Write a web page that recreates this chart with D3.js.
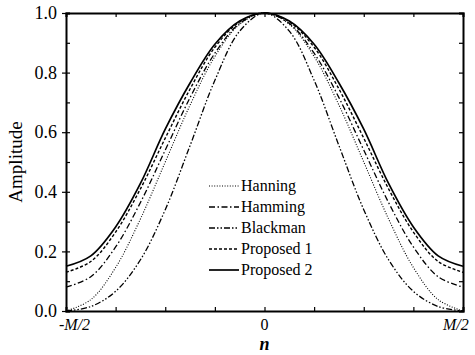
<!DOCTYPE html>
<html>
<head>
<meta charset="utf-8">
<script src="https://cdn.jsdelivr.net/npm/d3@7"></script>
<style>
  body { margin: 0; background: #fff; }
  text { font-family: "Liberation Serif", "Times New Roman", serif; fill: #000; }
</style>
</head>
<body>
<div id="chart"></div>
<script>
// window curves, n given as fraction of M/2
const nValues = [-1, -0.875, -0.75, -0.625, -0.5, -0.375, -0.25, -0.125, 0,
                 0.125, 0.25, 0.375, 0.5, 0.625, 0.75, 0.875, 1];
const hanning   = [0, 0.038, 0.146, 0.309, 0.5, 0.691, 0.854, 0.962, 1,
                   0.962, 0.854, 0.691, 0.5, 0.309, 0.146, 0.038, 0];
const hamming   = [0.08, 0.115, 0.215, 0.364, 0.54, 0.716, 0.865, 0.965, 1,
                   0.965, 0.865, 0.716, 0.54, 0.364, 0.215, 0.115, 0.08];
const blackman  = [0, 0.015, 0.066, 0.172, 0.34, 0.555, 0.774, 0.939, 1,
                   0.939, 0.774, 0.555, 0.34, 0.172, 0.066, 0.015, 0];
const proposed1 = [0.13, 0.166, 0.265, 0.41, 0.58, 0.745, 0.885, 0.97, 1,
                   0.97, 0.885, 0.745, 0.58, 0.41, 0.265, 0.166, 0.13];
const proposed2 = [0.15, 0.185, 0.282, 0.428, 0.61, 0.765, 0.895, 0.973, 1,
                   0.973, 0.895, 0.765, 0.61, 0.428, 0.282, 0.185, 0.15];
const seriesNames = ["Hanning", "Hamming", "Blackman", "Proposed 1", "Proposed 2"];
const xTickValues = [-1, 0, 1];
const xTickLabels = ["-M/2", "0", "M/2"];
const yTickValues = [0, 0.2, 0.4, 0.6, 0.8, 1.0];

const W = 475, H = 355;
const margin = {top: 13, right: 12, bottom: 44, left: 66};
const width = W - margin.left - margin.right,
      height = H - margin.top - margin.bottom;

const svg = d3.select("#chart").append("svg")
    .attr("width", W).attr("height", H)
    .style("background", "#fff");
const g = svg.append("g")
    .attr("transform", "translate(" + margin.left + "," + margin.top + ")");

const x = d3.scaleLinear().domain([-1, 1]).range([0, width]);
const y = d3.scaleLinear().domain([0, 1]).range([height, 0]);

// curve styles
const styles = [
  {dash: "1,1.6", w: 1.1},
  {dash: "6,2.5,1.5,2.5", w: 1.3},
  {dash: "6,2,1.5,2,1.5,2", w: 1.3},
  {dash: "3,2", w: 1.4},
  {dash: null, w: 1.7}
];
const series = [hanning, hamming, blackman, proposed1, proposed2];

const line = d3.line()
    .x(d => x(d[0]))
    .y(d => y(d[1]))
    .curve(d3.curveCatmullRom.alpha(0.5));

series.forEach(function(vals, i) {
  g.append("path")
    .datum(nValues.map((n, j) => [n, vals[j]]))
    .attr("fill", "none")
    .attr("stroke", "#000")
    .attr("stroke-width", styles[i].w)
    .attr("stroke-dasharray", styles[i].dash)
    .attr("d", line);
});

// axes: ticks inside, frame on all sides
const xMinor = d3.range(-1, 1.001, 0.25);
const yMinor = d3.range(0, 1.001, 0.1);

g.append("g").attr("transform", "translate(0," + height + ")")
  .call(d3.axisBottom(x).tickValues(xMinor).tickSize(-4).tickFormat(""));
g.append("g")
  .call(d3.axisTop(x).tickValues(xMinor).tickSize(-4).tickFormat(""));
g.append("g").attr("transform", "translate(" + width + ",0)")
  .call(d3.axisRight(y).tickValues(yMinor).tickSize(-4).tickFormat(""));
g.append("g")
  .call(d3.axisLeft(y).tickValues(yMinor).tickSize(-4).tickFormat(""));
g.append("g")
  .call(d3.axisLeft(y).tickValues(yTickValues).tickSize(4)
        .tickFormat(d3.format(".1f")).tickPadding(5))
  .call(a => a.select(".domain").remove())
  .selectAll("text")
  .style("font-size", "18px")
  .style("font-family", "Liberation Serif");

g.selectAll(".domain").attr("stroke-width", 2);
g.selectAll(".tick line").attr("stroke-width", 1.2);

// x tick labels
g.append("g").selectAll("text")
  .data(xTickValues)
  .enter().append("text")
  .attr("x", (d, i) => x(d) + [-7, 0, -20][i])
  .attr("y", height + 19)
  .attr("text-anchor", (d, i) => i === 1 ? "middle" : "start")
  .style("font-size", "16px")
  .style("font-style", (d, i) => i === 1 ? "normal" : "italic")
  .text((d, i) => xTickLabels[i]);

// axis titles
svg.append("text")
  .attr("transform", "translate(22," + (margin.top + height / 2) + ") rotate(-90)")
  .attr("text-anchor", "middle")
  .style("font-size", "19px")
  .text("Amplitude");
svg.append("text")
  .attr("x", margin.left + width / 2)
  .attr("y", 350)
  .attr("text-anchor", "middle")
  .style("font-size", "18px")
  .style("font-style", "italic")
  .style("font-weight", "bold")
  .text("n");

// legend
const legend = svg.append("g").attr("transform", "translate(209,186)");
seriesNames.forEach(function(name, i) {
  const row = legend.append("g").attr("transform", "translate(0," + (i * 21) + ")");
  row.append("line")
    .attr("x1", 0).attr("x2", 30).attr("y1", 0).attr("y2", 0)
    .attr("stroke", "#000")
    .attr("stroke-width", styles[i].w)
    .attr("stroke-dasharray", styles[i].dash);
  row.append("text")
    .attr("x", 32).attr("y", 5)
    .style("font-size", "16px")
    .text(name);
});
</script>
</body>
</html>
